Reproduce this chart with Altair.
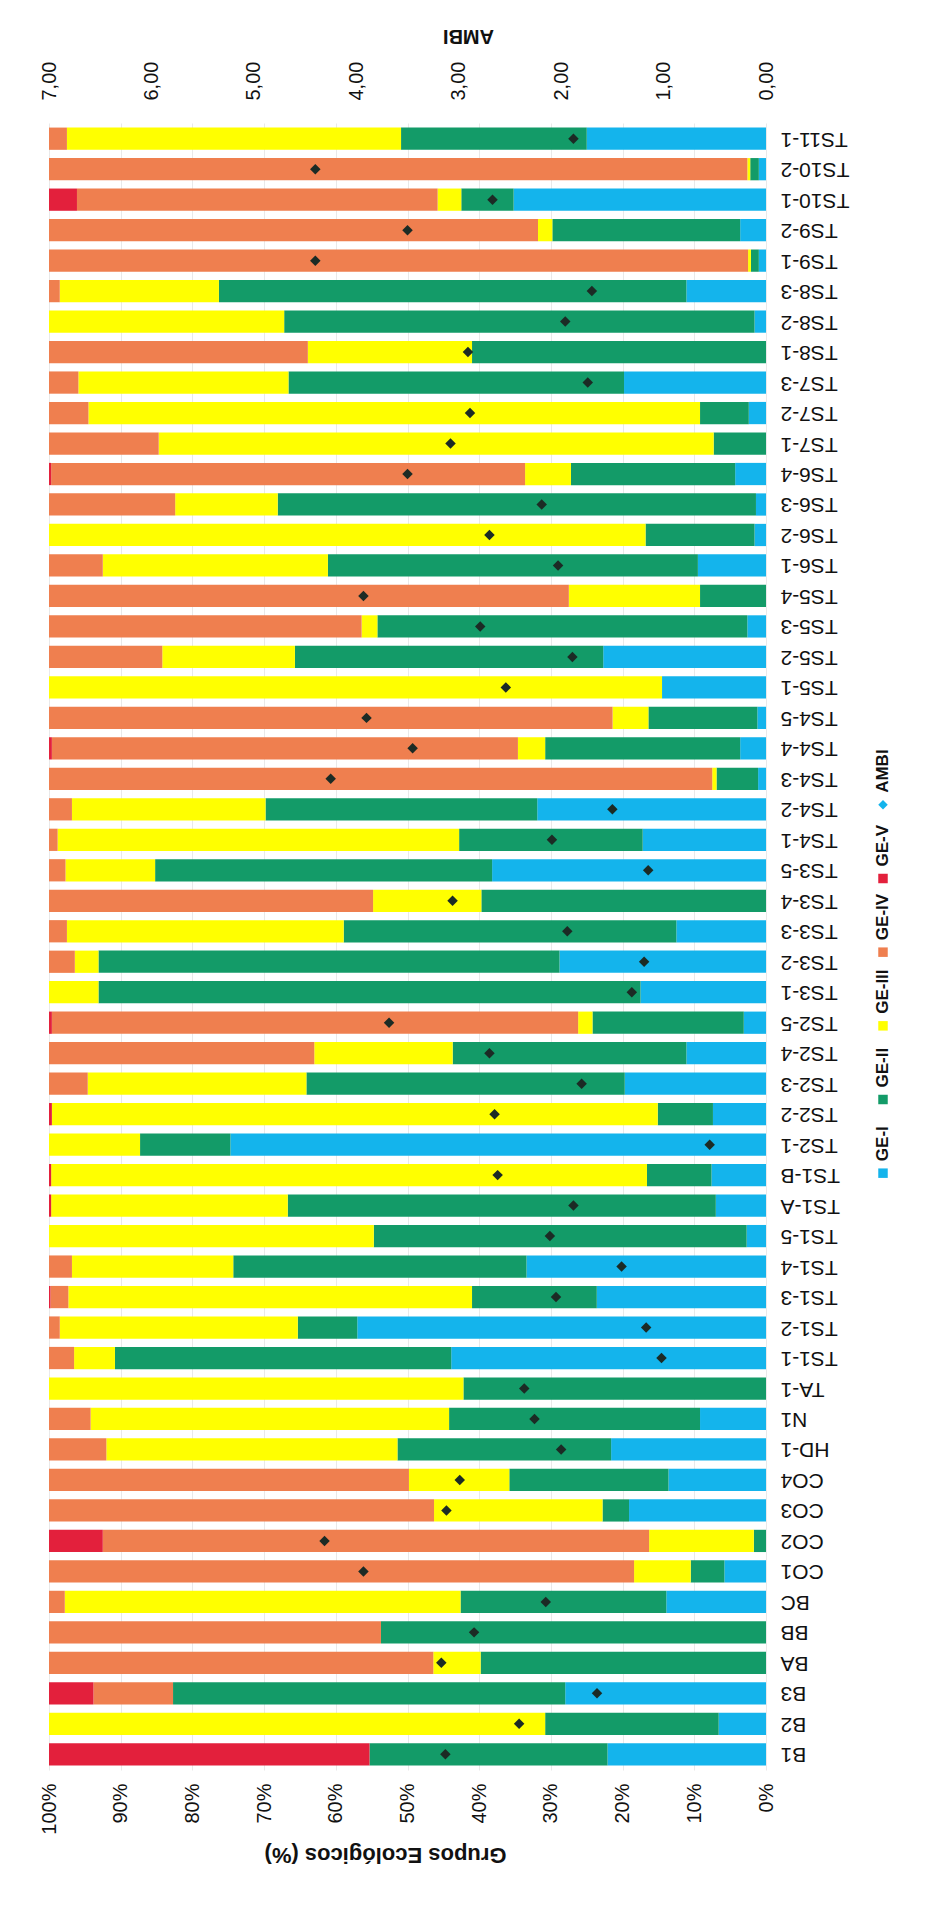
import altair as alt
import pandas as pd

# Stations listed bottom (B1) to top (TS11-1)
stations = ["B1", "B2", "B3", "BA", "BB", "BC", "CO1", "CO2", "CO3", "CO4", "HD-1", "N1", "TA-1",
            "TS1-1", "TS1-2", "TS1-3", "TS1-4", "TS1-5", "TS1-A", "TS1-B",
            "TS2-1", "TS2-2", "TS2-3", "TS2-4", "TS2-5",
            "TS3-1", "TS3-2", "TS3-3", "TS3-4", "TS3-5",
            "TS4-1", "TS4-2", "TS4-3", "TS4-4", "TS4-5",
            "TS5-1", "TS5-2", "TS5-3", "TS5-4",
            "TS6-1", "TS6-2", "TS6-3", "TS6-4",
            "TS7-1", "TS7-2", "TS7-3",
            "TS8-1", "TS8-2", "TS8-3",
            "TS9-1", "TS9-2", "TS10-1", "TS10-2", "TS11-1"]

ge1 = [22.1, 6.6, 28.0, 0, 0, 13.9, 5.8, 0, 19.1, 13.6, 21.6, 9.2, 0,
       43.9, 57.0, 23.6, 33.4, 2.7, 7.0, 7.6,
       74.7, 7.4, 19.7, 11.1, 3.1,
       17.5, 28.8, 12.5, 0, 38.2,
       17.2, 31.9, 1.1, 3.6, 1.2,
       14.5, 22.7, 2.6, 0,
       9.5, 1.6, 1.4, 4.3,
       0, 2.4, 19.8,
       0, 1.6, 11.1,
       1.0, 3.6, 35.2, 1.0, 25.0]
ge2 = [33.2, 24.2, 54.7, 39.8, 53.7, 28.7, 4.7, 1.7, 3.7, 22.2, 29.8, 35.0, 42.2,
       46.9, 8.3, 17.4, 40.9, 52.0, 59.7, 9.0,
       12.6, 7.7, 44.4, 32.6, 21.1,
       75.6, 64.3, 46.4, 39.7, 47.0,
       25.6, 37.9, 5.8, 27.2, 15.2,
       0, 43.0, 51.6, 9.2,
       51.6, 15.2, 66.7, 22.9,
       7.3, 6.8, 46.8,
       41.0, 65.6, 65.2,
       1.1, 26.2, 7.3, 1.2, 25.9]
ge3 = [0, 69.2, 0, 6.6, 0, 55.2, 7.9, 14.6, 23.5, 14.0, 40.6, 50.0, 57.8,
       5.7, 33.2, 56.3, 22.5, 45.3, 33.0, 83.1,
       12.7, 84.5, 30.5, 19.3, 2.0,
       6.9, 3.3, 38.6, 15.1, 12.5,
       56.0, 27.0, 0.6, 3.8, 5.0,
       85.5, 18.5, 2.2, 18.3,
       31.4, 83.2, 14.3, 6.4,
       77.4, 85.3, 29.3,
       22.9, 32.8, 22.2,
       0.4, 2.0, 3.3, 0.4, 46.6]
ge4 = [0, 0, 11.1, 53.6, 46.3, 2.2, 81.6, 76.2, 53.7, 50.2, 8.0, 5.8, 0,
       3.5, 1.5, 2.5, 3.2, 0, 0, 0,
       0, 0, 5.4, 37.0, 73.4,
       0, 3.6, 2.5, 45.2, 2.3,
       1.2, 3.2, 92.5, 65.0, 78.6,
       0, 15.8, 43.6, 72.5,
       7.5, 0, 17.6, 66.1,
       15.3, 5.5, 4.1,
       36.1, 0, 1.5,
       97.5, 68.2, 50.3, 97.4, 2.5]
ge5 = [44.7, 0, 6.2, 0, 0, 0, 0, 7.5, 0, 0, 0, 0, 0,
       0, 0, 0.2, 0, 0, 0.3, 0.3,
       0, 0.4, 0, 0, 0.4,
       0, 0, 0, 0, 0,
       0, 0, 0, 0.4, 0,
       0, 0, 0, 0,
       0, 0, 0, 0.3,
       0, 0, 0,
       0, 0, 0,
       0, 0, 3.9, 0, 0]
ambi = [3.13, 2.41, 1.65, 3.17, 2.85, 2.15, 3.93, 4.31, 3.12, 2.99, 2.00, 2.26, 2.36,
        1.02, 1.17, 2.05, 1.41, 2.11, 1.88, 2.62,
        0.55, 2.65, 1.80, 2.70, 3.68,
        1.31, 1.19, 1.94, 3.06, 1.15,
        2.09, 1.50, 4.25, 3.45, 3.90,
        2.54, 1.89, 2.79, 3.93,
        2.03, 2.70, 2.19, 3.50,
        3.08, 2.89, 1.74,
        2.91, 1.96, 1.70,
        4.40, 3.50, 2.67, 4.40, 1.88]

groups = ["GE-I", "GE-II", "GE-III", "GE-IV", "GE-V"]
group_colors = ["#14B4EC", "#139B68", "#FFFF00", "#EF7F4F", "#E3203C"]
ambi_color = "#1C2B25"
pct_ticks = [0, 0.1, 0.2, 0.3, 0.4, 0.5, 0.6, 0.7, 0.8, 0.9, 1.0]
ambi_ticks = [0, 1, 2, 3, 4, 5, 6, 7]

FONT = "Liberation Sans"
PLOT_W = 717
PLOT_H = 1647

rows = []
for i, st in enumerate(stations):
    for gi, (g, vals) in enumerate(zip(groups, [ge1, ge2, ge3, ge4, ge5])):
        rows.append({"station": st, "group": g, "gi": gi, "value": vals[i]})
df = pd.DataFrame(rows)
adf = pd.DataFrame({"station": stations, "ambi": ambi})

top_to_bottom = stations[::-1]

y_enc = alt.Y("station:N", sort=top_to_bottom,
              scale=alt.Scale(paddingInner=0.27, paddingOuter=0.15),
              axis=alt.Axis(orient="right", title=None, labelAngle=180, labelAlign="right",
                            labelBaseline="middle", labelFontSize=21, labelPadding=14,
                            ticks=False, tickSize=0, domain=False, labelColor="#111111"))

bars = alt.Chart(df).mark_bar().encode(
    y=y_enc,
    x=alt.X("value:Q", stack="normalize",
            scale=alt.Scale(reverse=True, domain=[0, 1], nice=False),
            axis=alt.Axis(orient="bottom", format=".0%", values=pct_ticks, labelAngle=270,
                          labelAlign="right", labelBaseline="middle", labelFontSize=20,
                          labelPadding=13, ticks=False, tickSize=0, domain=False,
                          grid=True, gridColor="#e9e9e9", labelColor="#111111",
                          title="Grupos Ecológicos (%)", titleAngle=180, titleFontSize=22,
                          titleFontWeight="bold", titlePadding=8, titleColor="#111111",
                          titleBaseline="bottom", titleX=336)),
    color=alt.Color("group:N", scale=alt.Scale(domain=groups, range=group_colors), legend=None),
    order=alt.Order("gi:Q"),
)

pts = alt.Chart(adf).mark_point(shape="diamond", filled=True, size=110, opacity=1,
                                color=ambi_color).encode(
    y=alt.Y("station:N", sort=top_to_bottom),
    x=alt.X("ambi:Q", scale=alt.Scale(domain=[0, 7], reverse=True, nice=False),
            axis=alt.Axis(orient="top", values=ambi_ticks,
                          labelExpr="replace(format(datum.value, '.2f'), '.', ',')",
                          labelAngle=270, labelAlign="left", labelBaseline="middle",
                          labelFontSize=20, labelPadding=23, ticks=False, tickSize=0,
                          domain=False, grid=False, labelColor="#111111",
                          title="AMBI", titleAngle=180, titleFontSize=20,
                          titleFontWeight="bold", titlePadding=16, titleColor="#111111",
                          titleBaseline="top", titleX=419)),
)

main = alt.layer(bars, pts).resolve_scale(x="independent").properties(width=PLOT_W, height=PLOT_H)

# Legend panel (rotated, like the reference)
legend_items = ["AMBI", "GE-V", "GE-IV", "GE-III", "GE-II", "GE-I"]
legend_colors = [ambi_color, "#E3203C", "#EF7F4F", "#FFFF00", "#139B68", "#14B4EC"]
legend_shapes = ["diamond", "square", "square", "square", "square", "square"]
ldf = pd.DataFrame({"item": legend_items})

ly = alt.Y("item:N", sort=legend_items,
           scale=alt.Scale(type="point", range=[645, 1087]), axis=None)
lsym = alt.Chart(ldf).mark_point(filled=True, size=90, opacity=1).encode(
    y=ly,
    color=alt.Color("item:N", scale=alt.Scale(domain=legend_items, range=legend_colors), legend=None),
    shape=alt.Shape("item:N", scale=alt.Scale(domain=legend_items, range=legend_shapes), legend=None),
)
ltxt = alt.Chart(ldf).mark_text(angle=270, align="left", baseline="middle", dx=12,
                                fontSize=17, fontWeight="bold", color="#111111").encode(
    y=ly, text="item:N")
legend = alt.layer(lsym, ltxt).properties(width=30, height=PLOT_H)

chart = alt.hconcat(main, legend, spacing=19).properties(
    padding={"left": 30, "top": 17, "right": 5, "bottom": 5}
).configure(font=FONT).configure_view(strokeWidth=0)

chart.save("out.html", embed_options={"renderer": "svg", "actions": False})
